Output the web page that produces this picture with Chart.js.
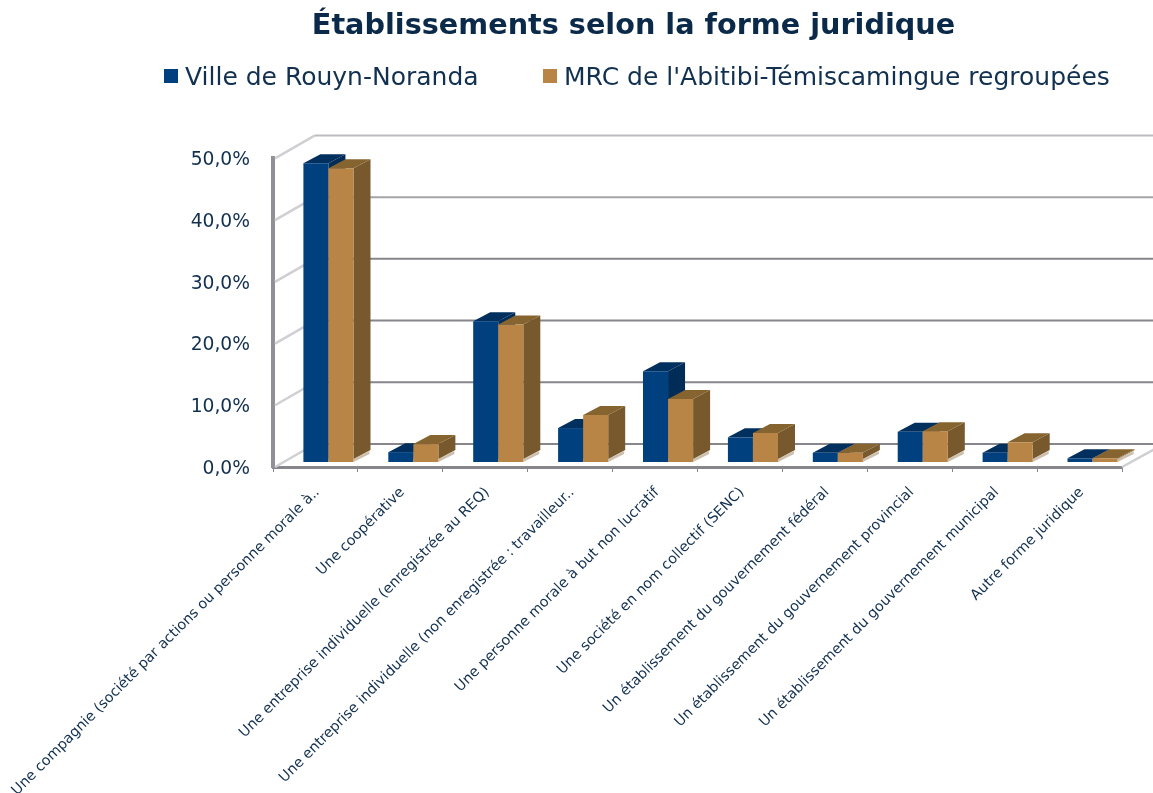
<!DOCTYPE html>
<html lang="fr">
<head>
<meta charset="utf-8">
<title>Établissements selon la forme juridique</title>
<style>html,body{margin:0;padding:0;background:#fff}canvas{display:block}</style>
<script src="https://cdn.jsdelivr.net/npm/chart.js@4/dist/chart.umd.min.js"></script>
</head>
<body>
<canvas id="c" width="1153" height="793"></canvas>
<script>
const titleText = "Établissements selon la forme juridique";
const categories = [
  "Une compagnie (société par actions ou personne morale à..",
  "Une coopérative",
  "Une entreprise individuelle (enregistrée au REQ)",
  "Une entreprise individuelle (non enregistrée : travailleur..",
  "Une personne morale à but non lucratif",
  "Une société en nom collectif (SENC)",
  "Un établissement du gouvernement fédéral",
  "Un établissement du gouvernement provincial",
  "Un établissement du gouvernement municipal",
  "Autre forme juridique"
];
const serieVille = [48.4, 1.6, 22.8, 5.5, 14.7, 4.0, 1.5, 4.9, 1.5, 0.6];
const serieMRC   = [47.6, 2.9, 22.3, 7.6, 10.2, 4.7, 1.5, 5.0, 3.2, 0.6];
const labelVille = "Ville de Rouyn-Noranda";
const labelMRC   = "MRC de l'Abitibi-Témiscamingue regroupées";

const TEXT = "#12304f";
const FONT = "'DejaVu Sans', sans-serif";
const WALL = {dx: 42, dy: -23};
const BAR_SHIFT = {dx: 13, dy: -5};
const BAR_DEPTH = {dx: 17, dy: -9};
const wallColors = {50: "#bcbcc0", 40: "#a4a4a8", 30: "#86868b", 20: "#86868b", 10: "#86868b", 0: "#86868b"};

function poly(ctx, pts, fill) {
  ctx.beginPath();
  pts.forEach((p, i) => i ? ctx.lineTo(p[0], p[1]) : ctx.moveTo(p[0], p[1]));
  ctx.closePath();
  ctx.fillStyle = fill;
  ctx.fill();
}

const walls = {
  id: "walls",
  beforeDatasetsDraw(chart) {
    const {ctx, scales: {y}, chartArea: a, width} = chart;
    ctx.save();
    y.ticks.forEach(t => {
      const py = y.getPixelForValue(t.value);
      ctx.strokeStyle = "#d0d0d4";
      ctx.lineWidth = 2.5;
      ctx.beginPath();
      ctx.moveTo(a.left + 2, py);
      ctx.lineTo(a.left + WALL.dx, py + WALL.dy);
      ctx.stroke();
      ctx.strokeStyle = wallColors[t.value];
      ctx.lineWidth = 2;
      ctx.beginPath();
      ctx.moveTo(a.left + WALL.dx, py + WALL.dy);
      ctx.lineTo(width, py + WALL.dy);
      ctx.stroke();
    });
    const y0 = y.getPixelForValue(0);
    ctx.strokeStyle = "#d0d0d4";
    ctx.lineWidth = 2.5;
    ctx.beginPath();
    ctx.moveTo(a.right, y0);
    ctx.lineTo(a.right + WALL.dx, y0 + WALL.dy);
    ctx.stroke();
    ctx.restore();
  }
};

// Bars are painted in dataset order so that the second series hides the side of the first.
const depth = {
  id: "depth",
  beforeDatasetDraw() { return false; },
  afterDatasetsDraw(chart) {
    const ctx = chart.ctx;
    const dx = BAR_DEPTH.dx, dy = BAR_DEPTH.dy;
    ctx.save();
    ctx.translate(BAR_SHIFT.dx, BAR_SHIFT.dy);
    chart.data.datasets.forEach((ds, i) => {
      const meta = chart.getDatasetMeta(i);
      meta.data.forEach(b => {
        const l = b.x - b.width / 2, r = b.x + b.width / 2, t = b.y, z = b.base;
        poly(ctx, [[r, z], [r + dx - 1, z + dy + 1], [r + dx - 1, z + dy - 2], [r, z - 3]], "#cdbfae");
        const h = Math.max(0, z - t - 3);
        poly(ctx, [[r, t], [r + dx, t + dy], [r + dx, t + dy + h], [r, t + h]], ds.sideColor);
        poly(ctx, [[l, t], [l + dx, t + dy], [r + dx, t + dy], [r, t]], ds.topColor);
      });
      meta.controller.draw();
    });
    ctx.restore();
  }
};

const legendBlock = {
  id: "legendBlock",
  afterDraw(chart) {
    const ctx = chart.ctx;
    const items = [[164, 185], [543, 564]];
    ctx.save();
    ctx.font = "25px " + FONT;
    ctx.textBaseline = "alphabetic";
    chart.data.datasets.forEach((d, i) => {
      ctx.fillStyle = d.backgroundColor;
      ctx.fillRect(items[i][0], 69, 14, 14);
      ctx.fillStyle = TEXT;
      ctx.fillText(d.label, items[i][1], 85);
    });
    ctx.restore();
  }
};

new Chart(document.getElementById("c"), {
  type: "bar",
  data: {
    labels: categories,
    datasets: [
      {label: labelVille, data: serieVille, backgroundColor: "#01407e", sideColor: "#012c58", topColor: "#012f5e"},
      {label: labelMRC, data: serieMRC, backgroundColor: "#b98547", sideColor: "#77592d", topColor: "#86642f"}
    ]
  },
  options: {
    responsive: false,
    animation: false,
    layout: {padding: {left: 145, right: 31, top: 0, bottom: 0}},
    datasets: {bar: {categoryPercentage: 0.59, barPercentage: 1, borderWidth: 0}},
    plugins: {
      legend: {display: false},
      tooltip: {enabled: false},
      title: {
        display: true,
        text: titleText,
        color: "#0b2a4a",
        font: {family: FONT, size: 28.7, weight: "bold", lineHeight: 1.2},
        padding: {top: 9, bottom: 115}
      }
    },
    scales: {
      x: {
        offset: true,
        grid: {display: true, drawOnChartArea: false, drawTicks: true, tickLength: 5, color: "#86868b", lineWidth: 1, offset: true},
        border: {display: true, color: "#86868b", width: 3},
        ticks: {
          autoSkip: false, minRotation: 45, maxRotation: 45, padding: 12, labelOffset: 2,
          color: TEXT, font: {family: FONT, size: 14.3}
        },
        afterFit(s) { s.height = 326; s.paddingLeft = 0; s.paddingRight = 0; }
      },
      y: {
        min: 0, max: 50,
        grid: {display: false},
        border: {display: true, color: "#909096", width: 4},
        ticks: {
          stepSize: 10, padding: 15, labelOffset: 2, color: TEXT, font: {family: FONT, size: 18.7},
          callback: v => v.toFixed(1).replace(".", ",") + "%"
        },
        afterFit(s) { s.width = 128; }
      }
    }
  },
  plugins: [walls, depth, legendBlock]
});
</script>
</body>
</html>
